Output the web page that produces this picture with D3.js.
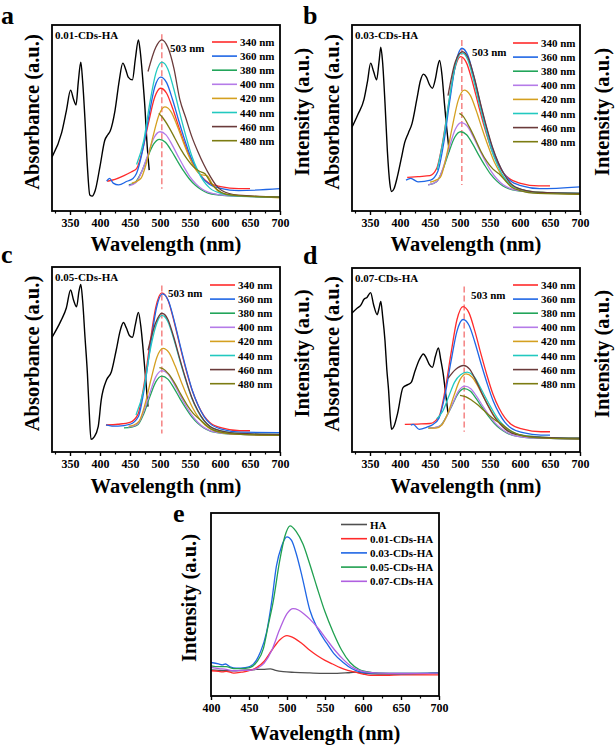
<!DOCTYPE html>
<html><head><meta charset="utf-8">
<script src="https://cdn.jsdelivr.net/npm/d3@7"></script>
<style>
body{margin:0;background:#fff}
svg{display:block}
text{font-family:"Liberation Serif","Times New Roman",serif;font-weight:bold;fill:#000}
</style>
</head><body>
<svg id="chart" width="615" height="749"></svg>
<script>
// ---------------- DATA ----------------
const panelLetters = ["a", "b", "c", "d", "e"];
const samples = ["0.01-CDs-HA", "0.03-CDs-HA", "0.05-CDs-HA", "0.07-CDs-HA"];
const excitations = ["340 nm", "360 nm", "380 nm", "400 nm", "420 nm", "440 nm", "460 nm", "480 nm"];
const exColors = ["#ff2a2a", "#1f66e5", "#22a55a", "#b57be8", "#d4a020", "#22c9c0", "#6a3a3a", "#7c7c12"];
const peakLabel = "503 nm";
const dashNm = [503, 503, 503, 507];
const dashRange = [[12, 95], [14, 92], [10, 90], [11, 90]];
const xTicksAD = [350, 400, 450, 500, 550, 600, 650, 700];
const xTicksE = [400, 450, 500, 550, 600, 650, 700];
const xTitle = "Wavelength (nm)";
const yTitleLeft = "Absorbance (a.u.)";
const yTitleRight = "Intensity (a.u.)";

// absorbance (black) curves, [nm, relative value]
const absA = [[320,29],[336,42],[344,54],[351,65],[356,60],[360,57],[364,70],[368,80],[371,70],[375,49],[379,24],[383,8.6],[387,8],[392,11],[400,24],[408,38],[413,41],[417,43],[425,54],[432,70],[438,79.5],[443,76],[447,72],[454,70.5],[459,82],[464,92],[467,86],[471,72],[475,55],[478,38],[482,22]];
const absB = [[320,45],[330,52],[340,60],[346,70],[351,79.5],[356,75],[361,70.5],[365,80],[368,88],[371,80],[375,58],[379,32],[383,15],[386,10.5],[390,12],[396,19],[402,28],[408,37],[414,42],[420,47],[428,60],[434,70],[439,73.6],[444,72],[449,68],[454,66],[459,71],[463,78],[466,81],[470,73],[474,58],[478,44],[482,32]];
const absC = [[320,62],[335,71],[344,78],[351,87.6],[356,82],[361,78.5],[365,87],[368,90.6],[371,82],[375,62],[379,42.5],[382,22],[385,6.8],[390,8],[397,13.7],[402,28],[411,39],[419,43.4],[427,55],[434,66],[439,70],[444,67],[449,63],[454,62],[459,69],[464,75.5],[468,68],[472,55],[476,40],[480,24.5]];
const absD = [[320,75.5],[328,78],[335,80],[340,83],[345,84],[351,86.6],[356,80],[362,74.6],[365,78],[368,81.8],[371,74],[375,60.5],[378,45],[381,33.5],[384,18],[386,12.3],[390,14],[396,21],[405,35],[413,36.6],[419,38],[425,44],[432,50],[439,53.3],[444,51],[449,47.5],[454,46],[459,52],[464,56.6],[468,50],[472,42.5],[476,32],[480,21]];

// emission curves per panel, in excitation order 340..480
const emA = [
 [[412,16],[425,17],[440,19],[452,21],[461,22.8],[471,32.9],[481,47.6],[491,61],[501,66],[511,63.3],[521,55.2],[531,45.5],[541,36.3],[551,28.2],[561,22.3],[571,17.9],[581,15.2],[601,13.1],[631,12],[650,12]],
 [[411,16],[416,17.5],[422,15],[431,14],[445,16],[455,17.5],[461,20.3],[471,32.4],[481,50.2],[491,66.4],[501,72],[511,69],[521,59.8],[531,48.8],[541,38.5],[551,29.3],[561,22.6],[571,17.7],[581,14.7],[601,12.2],[631,11],[700,12]],
 [[448,14],[459,15.5],[469,20.9],[479,28.7],[489,35.8],[499,38.5],[509,37],[519,32.4],[529,26.9],[539,21.7],[549,17.2],[559,13.8],[569,11.4],[579,9.8],[599,8.6],[629,8],[700,7.5]],
 [[448,13.5],[460,15.3],[470,21.5],[480,30.5],[490,39.4],[500,42.6],[510,40.9],[520,35.7],[530,29.5],[540,23.6],[550,18.4],[560,14.6],[570,11.8],[580,10.1],[600,8.7],[630,8],[700,7.5]],
 [[453,15],[468,17.5],[478,26.5],[488,39.6],[498,51.4],[508,56],[518,53.6],[528,46.4],[538,37.8],[548,29.6],[558,23],[568,19.5],[578,19],[588,14],[600,10],[620,8.5],[650,8],[700,7]],
 [[461,25],[473,38],[483,58],[493,74],[503,80],[513,76.4],[523,65.6],[533,52.6],[543,40.4],[553,29.6],[563,21.7],[573,15.9],[583,12.3],[603,9.4],[633,8],[700,7.5]],
 [[480,75],[493,88],[503,92],[513,88],[523,77],[533,60],[543,50],[553,40],[563,32],[573,25],[583,19],[593,14],[603,11],[630,8.5],[700,7.5]],
 [[498,52.5],[505,50],[515,45],[525,39],[535,33],[545,28],[555,24],[565,21.5],[575,20],[585,15],[595,11.5],[610,9],[640,8],[700,7.5]]
];
const emB = [
 [[412,18],[430,18.5],[450,19],[461,22.8],[471,36.9],[481,57.4],[491,76],[501,83],[511,79.5],[521,69.1],[531,56.6],[541,44.8],[551,34.4],[561,26.7],[571,21.1],[581,17.7],[601,14.9],[631,13.5],[650,13.5]],
 [[410,16.6],[418,17.5],[430,15.7],[451,16.6],[463,21.2],[473,36.7],[483,59.3],[493,79.7],[503,87.5],[513,83.7],[523,72.4],[533,58.8],[543,46],[553,34.7],[563,26.3],[573,20.3],[583,16.5],[603,13.5],[633,12],[700,13]],
 [[447,14],[461,15.7],[471,22],[481,31.2],[491,39.5],[501,42.6],[511,41],[521,36.1],[531,30.2],[541,24.7],[551,19.8],[561,16.2],[571,13.6],[581,12],[601,10.7],[631,10],[700,9.5]],
 [[447,14],[462,16],[472,23.4],[482,34.1],[492,43.8],[502,47.5],[512,45.6],[522,40],[532,33.3],[542,26.9],[552,21.3],[562,17.1],[572,14.1],[582,12.3],[602,10.8],[632,10],[700,9.5]],
 [[450,15.5],[467,18],[477,29],[487,45],[497,59.5],[507,65],[517,62.3],[527,54],[537,44.1],[547,34.8],[557,26.5],[567,20.5],[577,16],[587,13.3],[607,11.1],[637,10],[700,9]],
 [[462,22],[473,40],[483,62],[493,79],[503,85],[513,81.3],[523,70],[533,56.5],[543,43.8],[553,32.5],[563,24.3],[573,18.3],[583,14.5],[603,11.5],[633,10],[700,9.5]],
 [[480,62],[492,80],[504,85.7],[514,82],[524,71.5],[534,58],[544,45.5],[554,34.5],[564,26],[574,19.5],[584,15],[604,11.5],[634,10],[700,9.5]],
 [[499,52.5],[505,51],[515,45.5],[525,39],[535,32],[545,26.5],[555,22.5],[565,20],[575,16.5],[585,13],[600,11],[630,9.5],[700,9]]
];
const emC = [
 [[410,14.6],[430,15],[450,16],[463,20.2],[473,35.6],[483,58],[493,78.3],[503,86],[513,82.3],[523,71.1],[533,57.7],[543,45],[553,33.9],[563,25.7],[573,19.7],[583,16],[603,13],[633,11.5],[650,11.5]],
 [[410,14.6],[420,14],[430,14],[450,15],[464,19.2],[474,34.7],[484,57.3],[494,77.7],[504,85.5],[514,81.8],[524,70.5],[534,57.1],[544,44.4],[554,33.1],[564,24.9],[574,18.9],[584,15.2],[604,12.2],[634,10.7],[700,10.5]],
 [[440,13],[453,13.5],[463,14.7],[473,20.7],[483,29.8],[493,37.9],[503,41],[513,39.4],[523,34.7],[533,29],[543,23.7],[553,19],[563,15.5],[573,13],[583,11.4],[603,10.1],[633,9.5],[700,9]],
 [[447,13.5],[453,13.8],[463,15.3],[473,22],[483,31.8],[493,40.6],[503,44],[513,42.3],[523,37.1],[533,30.9],[543,25],[553,19.9],[563,16.1],[573,13.3],[583,11.6],[603,10.2],[633,9.5],[700,9]],
 [[448,14],[455,14.4],[465,16.5],[475,25.8],[485,39.2],[495,51.4],[505,56],[515,53.7],[525,46.7],[535,38.3],[545,30.4],[555,23.5],[565,18.3],[575,14.6],[585,12.3],[605,10.4],[635,9.5],[700,9]],
 [[460,20],[473,34],[483,54],[493,68],[503,73.8],[513,70.6],[523,61],[533,49.6],[543,38.7],[553,29.1],[563,22.1],[573,17],[583,13.8],[603,11.3],[633,10],[700,9.5]],
 [[480,55],[493,70],[503,75],[513,71.8],[523,62],[533,50.3],[543,39.3],[553,29.5],[563,22.4],[573,17.2],[583,13.9],[603,11.3],[633,10],[700,9.5]],
 [[499,45.6],[505,45],[515,42],[525,37],[535,31],[545,25.5],[555,21],[565,18],[575,15],[585,12.5],[605,10.5],[635,9.5],[700,9]]
];
const emD = [
 [[408,15],[430,15.2],[450,15.5],[465,19.3],[475,33.3],[485,53.6],[495,72],[505,79],[515,75.6],[525,65.4],[535,53.2],[545,41.6],[555,31.4],[565,23.9],[575,18.5],[585,15.1],[605,12.4],[635,11],[650,11]],
 [[418,14.6],[422,15],[432,12.3],[445,13.5],[455,15],[465,18.4],[475,31],[485,49.2],[495,65.7],[505,72],[515,68.9],[525,59.4],[535,48.1],[545,37.5],[555,28],[565,21.1],[575,16.1],[585,13],[605,10.5],[635,9.2],[650,9.2]],
 [[447,13],[457,13.2],[467,14.3],[477,19],[487,25.4],[497,31.8],[507,34.4],[517,33.1],[527,29],[537,24.2],[547,19.6],[557,15.6],[567,12.6],[577,10.5],[587,9.1],[607,8],[637,7.5],[700,7]],
 [[448,13],[458,13.2],[468,14.4],[478,19.5],[488,26.5],[498,33.3],[508,35.8],[518,34.4],[528,30.1],[538,25],[548,20.2],[558,16],[568,12.9],[578,10.6],[588,9.2],[608,8],[638,7.5],[700,7]],
 [[448,13],[460,13],[470,14.8],[480,21.3],[490,30.7],[500,39.3],[510,42.5],[520,40.8],[530,35.6],[540,29.4],[550,23.5],[560,18.4],[570,14.6],[580,11.8],[590,10.1],[610,8.7],[640,8],[700,7.5]],
 [[461,18],[471,22],[481,30],[491,38],[501,42],[512,43.4],[522,41.6],[532,36.3],[542,30],[552,24],[562,18.6],[572,14.7],[582,11.9],[592,10.1],[612,8.7],[642,8],[700,7.5]],
 [[480,40],[493,45],[506,47],[516,45],[526,39.2],[536,32.2],[546,25.6],[556,19.7],[566,15.4],[576,12.3],[586,10.3],[606,8.8],[636,8],[700,7.5]],
 [[500,30.8],[510,30],[520,28],[530,25.5],[540,22.5],[550,19.5],[560,17],[570,15],[580,12.5],[590,10.5],[610,8.5],[640,7.5],[700,7]]
];

// panel e: emission comparison
const seriesE = ["HA", "0.01-CDs-HA", "0.03-CDs-HA", "0.05-CDs-HA", "0.07-CDs-HA"];
const colorsE = ["#505050", "#ff2a2a", "#1f66e5", "#20a050", "#b060e0"];
const emE = [
 [[400,14.3],[410,14],[420,13.8],[430,13.8],[440,14],[450,14.2],[460,14.5],[470,14.6],[478,14.8],[485,14],[495,13.3],[510,12.9],[530,12.6],[550,12.4],[566,12.4],[580,12.7],[590,13],[600,12.5],[620,12],[650,12],[700,12.5]],
 [[400,13.8],[410,13.5],[415,13.2],[420,13.5],[430,12.5],[440,13],[450,13.8],[460,15.5],[470,19],[480,25],[490,30.5],[500,33],[510,31.5],[520,28.5],[530,25],[540,22],[550,19.5],[560,17.5],[570,15.5],[580,14],[590,13],[600,12],[610,11.3],[630,11.3],[650,11.5],[700,11.5]],
 [[400,18.3],[410,17.5],[415,17],[419,17.5],[425,16],[433,15.2],[445,15.5],[451,16.1],[460,19.7],[465,24],[473,34.6],[480,52],[486,70.8],[493,82],[500,87],[506,85],[512,78],[520,65],[530,47],[540,37],[552,29],[562,23],[574,18.3],[585,15],[595,13.3],[610,12.5],[650,12.3],[700,12.8]],
 [[400,16.5],[410,16],[420,16],[430,15],[440,15],[451,15.5],[460,18.5],[469,26],[475,38],[482,52],[490,73],[497,87],[504,93],[512,90],[521,83],[530,72],[539,60],[550,46],[561,34.6],[572,25],[583,18.3],[595,14.5],[605,13.3],[620,12.5],[650,12.3],[700,12.5]],
 [[400,15.6],[410,15],[420,14.5],[430,13.8],[440,14],[450,14],[460,15],[470,18],[480,25],[490,36],[500,45],[508,47.7],[515,47],[522,45],[530,42],[541,37],[552,31],[563,25],[574,20],[585,16],[595,14],[605,13],[620,12.5],[650,12.3],[700,12.5]]
];

// ---------------- DRAWING ----------------
const svg = d3.select("#chart");
const FONT = '"Liberation Serif","Times New Roman",serif';

function drawPanel(p) {
  const g = svg.append("g");
  const x = d3.scaleLinear().domain(p.domain).range([p.x0, p.x1]);
  const y = d3.scaleLinear().domain([0, 100]).range([p.y1, p.y0]);
  const clipId = "clip" + p.id;
  svg.append("clipPath").attr("id", clipId).append("rect")
    .attr("x", p.x0).attr("y", p.y0).attr("width", p.x1 - p.x0).attr("height", p.y1 - p.y0);
  const line = d3.line().x(d => x(d[0])).y(d => y(d[1])).curve(d3.curveMonotoneX);
  const plot = g.append("g").attr("clip-path", `url(#${clipId})`);

  if (p.abs) {
    plot.append("path").datum(p.abs).attr("d", line)
      .attr("fill", "none").attr("stroke", "#000").attr("stroke-width", 1.4);
  }
  if (p.dash != null) {
    plot.append("line")
      .attr("x1", x(p.dash)).attr("x2", x(p.dash))
      .attr("y1", y(p.dashR[1])).attr("y2", y(p.dashR[0]))
      .attr("stroke", "#f58a8a").attr("stroke-width", 1.6).attr("stroke-dasharray", "6,3");
  }
  p.series.forEach((s, i) => {
    plot.append("path").datum(s).attr("d", line)
      .attr("fill", "none").attr("stroke", p.colors[i]).attr("stroke-width", 1.3);
  });

  // frame
  g.append("rect").attr("x", p.x0).attr("y", p.y0)
    .attr("width", p.x1 - p.x0).attr("height", p.y1 - p.y0)
    .attr("fill", "none").attr("stroke", "#000").attr("stroke-width", 1.8);

  // axes
  const minor = [];
  for (let i = 0; i < p.ticks.length - 1; i++) minor.push((p.ticks[i] + p.ticks[i + 1]) / 2);
  if (p.domain[0] < p.ticks[0] - 25) minor.unshift(p.ticks[0] - 25);
  const ax = g.append("g").attr("transform", `translate(0,${p.y1})`)
    .call(d3.axisBottom(x).tickValues(p.ticks).tickSize(4).tickPadding(3).tickFormat(d3.format("d")));
  ax.select(".domain").remove();
  ax.selectAll("line").attr("stroke-width", 1.4);
  ax.selectAll("text").attr("font-family", FONT).attr("font-weight", "bold").attr("font-size", 12).attr("fill", "#000");
  const axm = g.append("g").attr("transform", `translate(0,${p.y1})`)
    .call(d3.axisBottom(x).tickValues(minor).tickSize(2.5).tickFormat(""));
  axm.select(".domain").remove();
  axm.selectAll("line").attr("stroke-width", 1.2);

  // titles
  const cx = (p.x0 + p.x1) / 2;
  g.append("text").attr("x", cx).attr("y", p.xTitleY).attr("text-anchor", "middle")
    .attr("font-size", 20.5).text(xTitle);
  g.append("text").attr("transform", `translate(${p.yLeftX},${p.yLeftY}) rotate(-90)`)
    .attr("text-anchor", "middle").attr("dominant-baseline", "central")
    .attr("font-size", 20.5).text(p.yLeft);
  if (p.yRight) {
    g.append("text").attr("transform", `translate(${p.yRightX},${p.yLeftY}) rotate(-90)`)
      .attr("text-anchor", "middle").attr("dominant-baseline", "central")
      .attr("font-size", 20.5).text(p.yRight);
  }
  g.append("text").attr("x", p.letterX).attr("y", p.letterY).attr("font-size", 26).text(p.letter);

  if (p.sample) {
    g.append("text").attr("x", p.x0 + 3).attr("y", p.y0 + 14).attr("font-size", 11).text(p.sample);
  }
  if (p.dash != null) {
    g.append("text").attr("x", p.peakX).attr("y", p.peakY).attr("font-size", 11).text(peakLabel);
  }

  // legend
  p.legendNames.forEach((n, i) => {
    const ly = p.legY + i * p.legStep;
    g.append("line").attr("x1", p.legX).attr("x2", p.legX + p.legLen)
      .attr("y1", ly).attr("y2", ly).attr("stroke", p.colors[i]).attr("stroke-width", 1.6);
    g.append("text").attr("x", p.legX + p.legLen + 3).attr("y", ly)
      .attr("dominant-baseline", "central").attr("font-size", 11).text(n);
  });
}

const absAll = [absA, absB, absC, absD];
const emAll = [emA, emB, emC, emD];
const boxes = [
  {x0: 52, x1: 280, y0: 25, y1: 211, lx: 1, ly: 24, legX: 212, legY: 42, peakX: 170, peakY: 52, xt: 251},
  {x0: 352, x1: 580, y0: 25, y1: 211, lx: 303, ly: 24, legX: 513, legY: 43, peakX: 472, peakY: 56, xt: 251},
  {x0: 52, x1: 280, y0: 267, y1: 452, lx: 1, ly: 263, legX: 210, legY: 285, peakX: 168, peakY: 297, xt: 493},
  {x0: 352, x1: 580, y0: 268, y1: 452, lx: 303, ly: 264, legX: 513, legY: 285, peakX: 471, peakY: 299, xt: 493}
];
boxes.forEach((b, i) => {
  drawPanel({
    id: i, domain: [320, 700], x0: b.x0, x1: b.x1, y0: b.y0, y1: b.y1,
    abs: absAll[i], series: emAll[i], colors: exColors, ticks: xTicksAD,
    dash: dashNm[i], dashR: dashRange[i],
    xTitleY: b.xt, yLeft: yTitleLeft, yRight: yTitleRight,
    yLeftX: b.x0 - 20, yRightX: b.x1 + 22, yLeftY: (b.y0 + b.y1) / 2 - 6,
    letter: panelLetters[i], letterX: b.lx, letterY: b.ly,
    sample: samples[i], peakX: b.peakX, peakY: b.peakY,
    legendNames: excitations, legX: b.legX, legY: b.legY, legStep: 14.1, legLen: 25
  });
});
drawPanel({
  id: 4, domain: [400, 700], x0: 211, x1: 439, y0: 513, y1: 696,
  abs: null, series: emE, colors: colorsE, ticks: xTicksE, dash: null,
  xTitleY: 740, yLeft: "Intensity (a.u.)", yRight: null,
  yLeftX: 189, yLeftY: 598,
  letter: panelLetters[4], letterX: 173, letterY: 522,
  sample: null, legendNames: seriesE, legX: 341, legY: 524.5, legStep: 14.2, legLen: 26
});
</script>
</body></html>
